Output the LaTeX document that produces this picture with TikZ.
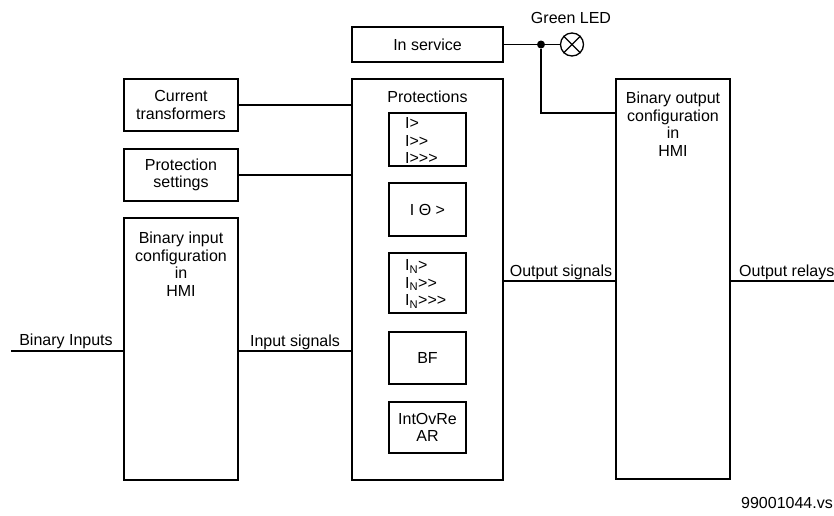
\documentclass[tikz,border=0pt]{standalone}
\usepackage{fontspec}
\setmainfont{Liberation Sans}[Ligatures=TeXOff]
\begin{document}
\begin{tikzpicture} [x=1pt, y=-1pt,
        box/.style={draw, line width=1.6pt, inner sep=0pt},
        txt/.style={font=\fontsize{16}{17.5}\selectfont, align=center, inner sep=0pt},
        wire/.style={line width=1.3pt}]
    \useasboundingbox (0,0) rectangle (834,515);
    % outer blocks
    \node[box, minimum width=151pt, minimum height=35pt, txt] (insvc) at (427.5,44.5) {In service};
    \node[box, minimum width=114pt, minimum height=52pt, txt] (ct) at (181,105) {Current\\transformers};
    \node[box, minimum width=114pt, minimum height=52pt, txt] (ps) at (181,175) {Protection\\settings};
    \node[box, minimum width=114pt, minimum height=262pt] (bi) at (181,349) {};
    \node[box, minimum width=151pt, minimum height=401pt] (prot) at (427.5,279.5) {};
    \node[box, minimum width=114pt, minimum height=400pt] (bo) at (673,279) {};
    \node[txt] (bi-t) at (181,264) {Binary input\\configuration\\in\\HMI};
    \node[txt] (prot-t) at (427.5,97) {Protections};
    \node[txt] (bo-t) at (673,124) {Binary output\\configuration\\in\\HMI};
    % protection functions
    \foreach \name/\y/\h in {1/139.5/53, 2/209.5/53, 3/283/60, 4/358/52, 5/427.5/51}
        \node[box, minimum width=77pt, minimum height=\h pt] (P-\name) at (427.5,\y) {};
    \node[txt, align=left, anchor=west] (P-1t) at (405,140.5) {I>\\I>>\\I>>>};
    \node[txt] (P-2t) at (P-2) {I Θ >};
    \node[txt, align=left, anchor=west] (P-3t) at (405,284) {I\textsubscript{N}>\\I\textsubscript{N}>>\\I\textsubscript{N}>>>};
    \node[txt] (P-4t) at (P-4) {BF};
    \node[txt] (P-5t) at (P-5) {IntOvRe\\AR};
    % LED
    \node[circle, fill, minimum size=8pt, inner sep=0pt] (dot) at (541,44.5) {};
    \node[circle, draw, line width=1.3pt, minimum size=23pt, inner sep=0pt] (led) at (572,44.5) {};
    \draw[wire] (led.north west) -- (led.south east) (led.north east) -- (led.south west);
    \node[txt] (led-t) at (571,18) {Green LED};
    % wiring
    \coordinate (bin) at (11,351);
    \coordinate (osig) at (503,281);
    \coordinate (orel) at (834,281);
    \coordinate (bo-in) at (616,113);
    \draw[wire] (insvc) -- (dot) -- (led);
    \draw[wire] (dot) |- (bo-in);
    \draw[wire] (ct.east) -- (ct.east -| prot.west);
    \draw[wire] (ps.east) -- (ps.east -| prot.west);
    \draw[wire] (bin) -- (bin -| bi.west);
    \draw[wire] (bin -| bi.east) -- (bin -| prot.west);
    \draw[wire] (osig) -- (osig -| bo.west);
    \draw[wire] (orel -| bo.east) -- (orel);
    % signal names
    \node[txt] (bin-t) at (66,341) {Binary Inputs};
    \node[txt] (isig-t) at (295,342) {Input signals};
    \node[txt] (osig-t) at (561,272) {Output signals};
    \node[txt, anchor=west] (orel-t) at (739,272) {Output relays};
    \node[txt, anchor=east] (file-t) at (833,503) {99001044.vs};
\end{tikzpicture}
\end{document}
